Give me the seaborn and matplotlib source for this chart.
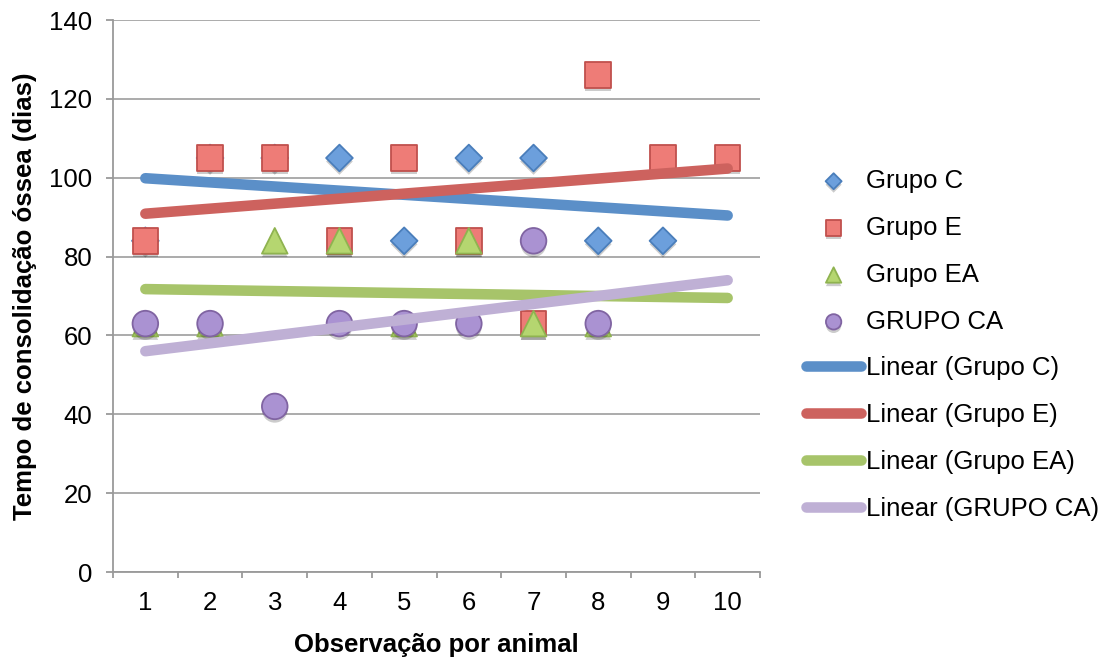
import numpy as np
import matplotlib
matplotlib.use("Agg")
import matplotlib.pyplot as plt
import matplotlib.patheffects as pe
import seaborn as sns

grupo_c = [84, 105, 105, 105, 84, 105, 105, 84, 84]
grupo_e = [84, 105, 105, 84, 105, 84, 63, 126, 105, 105]
grupo_ea = [63, 63, 84, 84, 63, 84, 63, 63]
grupo_ca = [63, 63, 42, 63, 63, 63, 84, 63]
categories = list(range(1, 11))
yticks = list(range(0, 141, 20))

series = [
    ("Grupo C", grupo_c, "D", 185, "#6c9fdc", "#4a7ebb", "#5b8fc8"),
    ("Grupo E", grupo_e, "s", 340, "#ee7c77", "#c0504d", "#cd625e"),
    ("Grupo EA", grupo_ea, "^", 340, "#b5d670", "#8fb350", "#a7c46a"),
    ("GRUPO CA", grupo_ca, "o", 340, "#aa92d2", "#8064a2", "#bfb0d5"),
]

sns.set_style("white")
plt.rcParams["font.family"] = ["Liberation Sans", "DejaVu Sans"]
plt.rcParams["text.color"] = "black"
plt.rcParams["xtick.labelcolor"] = "black"
plt.rcParams["ytick.labelcolor"] = "black"
plt.rcParams["axes.labelcolor"] = "black"

fig = plt.figure(figsize=(11.1, 6.6), dpi=100)
ax = fig.add_axes([113 / 1110, 1 - 572 / 660, 647 / 1110, 552 / 660])

shadow = [pe.SimplePatchShadow(offset=(0, -2.5), shadow_rgbFace="k", alpha=0.2), pe.Normal()]

# markers first
for name, vals, mk, size, face, edge, _ in series:
    xs = categories[:len(vals)]
    sns.scatterplot(x=xs, y=vals, marker=mk, s=size, color=face, edgecolor=edge,
                    linewidth=1.3, ax=ax, label=name, zorder=3)
for coll in ax.collections:
    coll.set_path_effects(shadow)

# linear trendlines, extended over all categories (like Excel)
for name, vals, mk, size, face, edge, lc in series:
    xs = np.array(categories[:len(vals)])
    slope, icpt = np.polyfit(xs, vals, 1)
    xl = np.array([categories[0], categories[-1]])
    sns.lineplot(x=xl, y=slope * xl + icpt, color=lc, linewidth=7.6, ax=ax,
                 label="Linear (" + name + ")", zorder=4, solid_capstyle="round")

ax.set_xlim(0.5, 10.5)
ax.set_ylim(0, 140)
ax.set_yticks(yticks)
ax.set_xticks(categories)
ax.set_xticks(np.arange(0.5, 11, 1), minor=True)
ax.tick_params(axis="x", which="major", length=0, pad=14, labelsize=18.5)
ax.tick_params(axis="x", which="minor", length=4, width=1.3, color="#9a9a9a", direction="out", bottom=True)
ax.tick_params(axis="y", which="major", length=5, width=1.3, color="#9a9a9a", direction="out", left=True,
               pad=10, labelsize=18.5)
ax.grid(axis="y", color="#a5a5a5", linewidth=1.3)
ax.set_axisbelow(True)
for s in ["top", "right"]:
    ax.spines[s].set_visible(False)
for s in ["left", "bottom"]:
    ax.spines[s].set_color("#9a9a9a")
    ax.spines[s].set_linewidth(1.3)

ax.set_ylabel("Tempo de consolidação óssea (dias)", fontsize=18.5, fontweight="bold")
ax.set_xlabel("Observação por animal", fontsize=18.5, fontweight="bold")
ax.yaxis.set_label_coords(-0.117, 0.5)
ax.xaxis.set_label_coords(0.5, -0.11)

handles, labels = ax.get_legend_handles_labels()
if ax.legend_:
    ax.legend_.remove()
fig.legend(handles, labels, loc="upper left", bbox_to_anchor=(806 / 1110, 1 - 169 / 660),
           frameon=False, fontsize=18.5, markerscale=0.6, handlelength=2.15, handletextpad=0.2,
           labelspacing=0.89, borderpad=0, borderaxespad=0)

fig.savefig("out.png", dpi=100)
